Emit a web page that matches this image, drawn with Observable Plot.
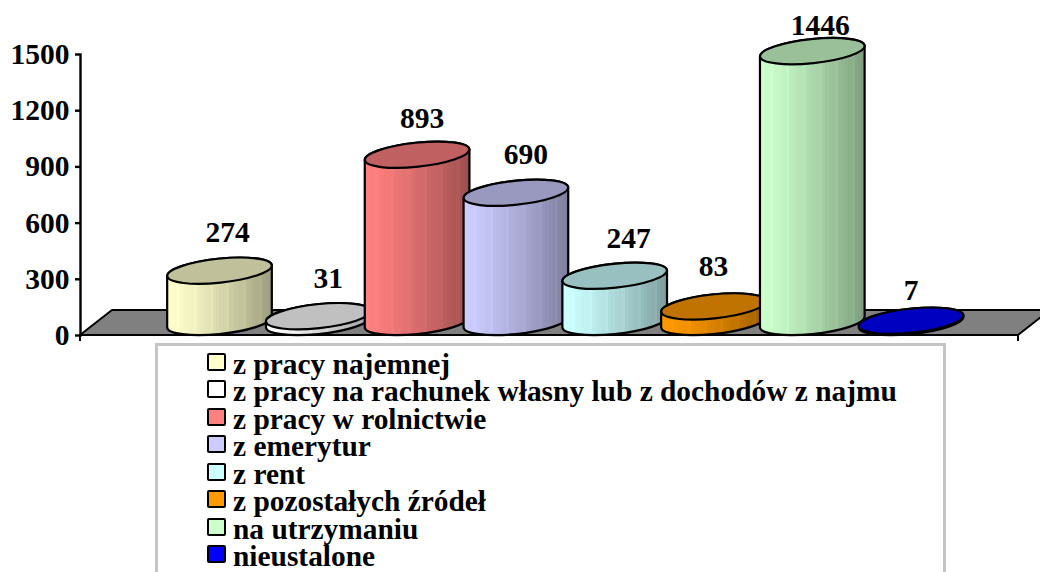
<!DOCTYPE html>
<html lang="pl">
<head>
<meta charset="utf-8">
<script src="https://cdn.jsdelivr.net/npm/d3@7"></script>
<script src="https://cdn.jsdelivr.net/npm/@observablehq/plot@0.6"></script>
<style>
html,body{margin:0;padding:0;background:#fff;overflow:hidden;width:1040px;height:572px}
#chart svg{display:block;overflow:visible}
#legend{position:absolute;left:155px;top:343px;width:785px;height:229px;border:3px solid #c4c4c4;border-bottom:none;box-sizing:content-box;overflow:hidden;font:bold 29.4px "Liberation Serif",serif;color:#000}
.row{position:absolute;left:49px;height:27px;line-height:27px;white-space:nowrap}
.sw{position:absolute;left:0;top:1px;width:15px;height:14px;border:2px solid #000;border-radius:2px}
.tx{position:absolute;left:26px;top:-1px}
</style>
</head>
<body>
<div id="chart"></div>
<div id="legend"></div>
<script>
const categories = ["z pracy najemnej","z pracy na rachunek własny lub z dochodów z najmu","z pracy w rolnictwie","z emerytur","z rent","z pozostałych źródeł","na utrzymaniu","nieustalone"];
const values = [274,31,893,690,247,83,1446,7];
const colors = ["#FFFFCC","#FFFFFF","#FF8080","#CCCCFF","#CCFFFF","#FF9900","#CCFFCC","#0000FF"];
const topColors = ["#C0C09A","#C0C0C0","#C06060","#9999C0","#99C0C0","#C07300","#99C099","#0000C0"];
const yTicks = [0,300,600,900,1200,1500];
// hand placement of the value labels, in pixels from the top of each column
const labelDx = [8,10,5,10,14,0,8,0];
const labelDy = [-52,-51,-50,-52,-51,-53,-39,-44];

const data = categories.map((c,i)=>({c,v:values[i],i}));
const FONT = '"Liberation Serif",serif';
const depth = 13;               // base centre lies this far behind the front of the floor
const tilt = 6, a = 52.6, b = 12; // tilted ellipse used for each column end
const rad = tilt*Math.PI/180, s = Math.sin(rad), co = Math.cos(rad);
const X = Math.sqrt(a*a*co*co+b*b*s*s), DY = (a*a-b*b)*s*co/X;

function shade(hex,f){const c=d3.rgb(hex);return d3.rgb(c.r*f,c.g*f,c.b*f).formatHex();}

function floorMark(index,scales,values_,dim,ctx){
  const g=d3.select(ctx.document.createElementNS("http://www.w3.org/2000/svg","g"));
  const l=dim.marginLeft, r=dim.width-dim.marginRight, y0=scales.y(0), h=25, w=32;
  g.append("path").attr("d",`M${l},${y0}L${l+w},${y0-h}L${r+w},${y0-h}L${r},${y0}Z`)
    .attr("fill","#808080").attr("stroke","#000").attr("stroke-width",2).attr("stroke-linejoin","round");
  g.append("path").attr("d",`M${l},${y0}v6M${r},${y0}v6`).attr("stroke","#000").attr("stroke-width",2);
  return g.node();
}

function columns(index,scales,vals,dim,ctx){
  const g=d3.select(ctx.document.createElementNS("http://www.w3.org/2000/svg","g"));
  const defs=g.append("defs");
  const n=32;
  colors.forEach((col,i)=>{
    const lg=defs.append("linearGradient").attr("id","cyl"+i);
    for(let k=0;k<n;k++){
      const f=1-0.38*Math.pow(k/(n-1),1.3);
      const c=(k%5===3&&i!==7)?shade(col,Math.min(1,f+0.025)):shade(col,f);
      lg.append("stop").attr("offset",k/n).attr("stop-color",c);
      lg.append("stop").attr("offset",(k+1)/n).attr("stop-color",c);
    }
  });
  for(const i of index){
    const d=data[i];
    const cx=scales.x(d.c)+scales.x.bandwidth()/2+0.5;
    const yB=scales.y(0)-depth, yT=scales.y(d.v)-depth;
    const rot=-tilt;
    g.append("path")
      .attr("d",`M${cx-X},${yT+DY}L${cx-X},${yB+DY}A${a},${b} ${rot} 0 0 ${cx+X},${yB-DY}L${cx+X},${yT-DY}A${a},${b} ${rot} 0 0 ${cx-X},${yT+DY}Z`)
      .attr("fill",`url(#cyl${i})`).attr("stroke","#000").attr("stroke-width",2.2).attr("stroke-linejoin","round");
    g.append("ellipse").attr("cx",cx).attr("cy",yT).attr("rx",a).attr("ry",b)
      .attr("transform",`rotate(${rot} ${cx} ${yT})`)
      .attr("fill",topColors[i]).attr("stroke","#000").attr("stroke-width",2.2);
  }
  return g.node();
}

const chart = Plot.plot({
  width:1040, height:343,
  marginLeft:80, marginRight:22, marginTop:54, marginBottom:8,
  style:{fontFamily:FONT,background:"transparent",color:"#000"},
  x:{type:"band",domain:categories,range:[169.6,960],padding:0,round:false,axis:null},
  y:{domain:[0,1500],range:[335,54],ticks:yTicks,label:null,axis:null},
  marks:[
    floorMark,
    Plot.frame({anchor:"left",stroke:"#000",strokeWidth:2.4}),
    Plot.axisY({ticks:yTicks,tickFormat:d=>String(d),tickSize:5,tickPadding:6,strokeWidth:2.4,stroke:"#000",fontSize:29.5,fontWeight:"bold",label:null,fill:"#000"}),
    Plot.barY(data,{x:"c",y:"v",render:columns}),
    ...data.map((d,i)=>Plot.text([d],{x:"c",y:"v",text:e=>String(e.v),dx:labelDx[i],dy:labelDy[i],fontSize:29.5,fontWeight:"bold",fill:"#000"}))
  ]
});
document.getElementById("chart").append(chart);

const legend=document.getElementById("legend");
categories.forEach((c,i)=>{
  const r=document.createElement("div");r.className="row";r.style.top=(6+i*27.43)+"px";
  const sw=document.createElement("span");sw.className="sw";sw.style.background=colors[i];
  const t=document.createElement("span");t.className="tx";t.textContent=c;
  r.append(sw,t);legend.append(r);
});
</script>
</body>
</html>
